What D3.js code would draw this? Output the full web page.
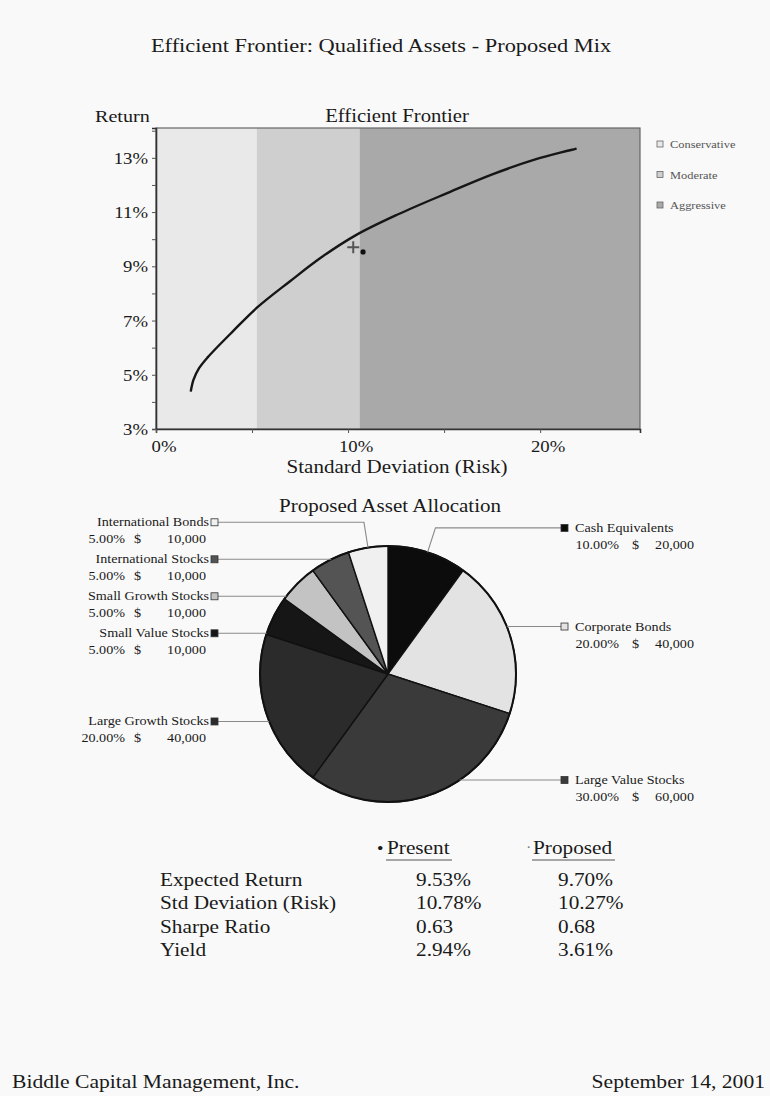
<!DOCTYPE html>
<html>
<head>
<meta charset="utf-8">
<script src="https://cdn.jsdelivr.net/npm/d3@7"></script>
<style>
  body { margin: 0; background: #f9f9f9; }
  svg { display: block; font-family: "Liberation Serif", "DejaVu Serif", serif; }
</style>
</head>
<body>
<div id="wrapper"></div>
<script>
// efficient frontier curve (risk %, return %)
const frontierRisk = [1.81, 1.95, 2.25, 2.70, 4.00, 5.30, 6.98, 8.65, 10.41, 12.55, 15.16, 17.51, 19.75, 21.90];
const frontierReturn = [4.38, 4.81, 5.25, 5.65, 6.60, 7.50, 8.45, 9.35, 10.15, 10.90, 11.70, 12.39, 12.94, 13.34];

const bandNames = ['Conservative', 'Moderate', 'Aggressive'];
const bandEdges = [0, 5.25, 10.6, 25.2];

const portfolioNames = ['Present', 'Proposed'];
const portfolioRisk = [10.78, 10.27];
const portfolioReturn = [9.53, 9.70];

const xTickValues = [0, 10, 20];
const yTickValues = [3, 5, 7, 9, 11, 13];

const assetNames = ['Cash Equivalents', 'Corporate Bonds', 'Large Value Stocks', 'Large Growth Stocks',
    'Small Value Stocks', 'Small Growth Stocks', 'International Stocks', 'International Bonds'];
const assetWeights = [10, 20, 30, 20, 5, 5, 5, 5];
const assetAmounts = [20000, 40000, 60000, 40000, 10000, 10000, 10000, 10000];

const statNames = ['Expected Return', 'Std Deviation (Risk)', 'Sharpe Ratio', 'Yield'];
const presentStats = ['9.53%', '10.78%', '0.63', '2.94%'];
const proposedStats = ['9.70%', '10.27%', '0.68', '3.61%'];

const width = 770, height = 1096;
const svg = d3.select('#wrapper').append('svg')
    .attr('width', width)
    .attr('height', height);

svg.append('rect').attr('width', width).attr('height', height).attr('fill', '#f9f9f9');

// the scan is wider than tall, so text gets a horizontal stretch
function label(parent, x, y, str, size, anchor) {
    return parent.append('text')
        .attr('transform', `translate(${x},${y}) scale(1.15,1)`)
        .attr('font-size', size)
        .attr('text-anchor', anchor || 'start')
        .attr('fill', '#1a1a1a')
        .text(str);
}

label(svg, 381, 52, 'Efficient Frontier: Qualified Assets - Proposed Mix', 19.5, 'middle');

// ---------- frontier chart ----------
const plot = { left: 156, right: 640, top: 128, bottom: 429 };

const xScale = d3.scaleLinear().domain([bandEdges[0], bandEdges[3]]).range([plot.left, plot.right]);
const yScale = d3.scaleLinear().domain([3, 14.1]).range([plot.bottom, plot.top]);

const bandFill = ['#e9e9e9', '#cfcfcf', '#a9a9a9'];
const chart = svg.append('g');

chart.selectAll('rect.band')
    .data(bandNames)
    .join('rect')
    .attr('class', 'band')
    .attr('x', (d, i) => xScale(bandEdges[i]))
    .attr('width', (d, i) => xScale(bandEdges[i + 1]) - xScale(bandEdges[i]))
    .attr('y', plot.top)
    .attr('height', plot.bottom - plot.top)
    .attr('fill', (d, i) => bandFill[i]);

chart.append('rect')
    .attr('x', plot.left).attr('y', plot.top)
    .attr('width', plot.right - plot.left).attr('height', plot.bottom - plot.top)
    .attr('fill', 'none').attr('stroke', '#666').attr('stroke-width', 1.2);

const frontier = frontierRisk.map((r, i) => [r, frontierReturn[i]]);
const line = d3.line()
    .x(d => xScale(d[0]))
    .y(d => yScale(d[1]))
    .curve(d3.curveCatmullRom.alpha(0.5));

chart.append('path')
    .attr('d', line(frontier))
    .attr('fill', 'none')
    .attr('stroke', '#161616')
    .attr('stroke-width', 2.4);

// proposed (+) and present (dot) markers
const px = xScale(portfolioRisk[1]), py = yScale(portfolioReturn[1]);
chart.append('path')
    .attr('d', `M${px - 6},${py}H${px + 6}M${px},${py - 6}V${py + 6}`)
    .attr('stroke', '#555').attr('stroke-width', 2);
chart.append('circle')
    .attr('cx', xScale(portfolioRisk[0])).attr('cy', yScale(portfolioReturn[0]))
    .attr('r', 2.6).attr('fill', '#111');

// axes
const yAxis = chart.append('g')
    .attr('transform', `translate(${plot.left},0)`)
    .call(d3.axisLeft(yScale).tickValues(d3.range(3, 15)).tickSize(4).tickFormat(''));
const xAxis = chart.append('g')
    .attr('transform', `translate(0,${plot.bottom})`)
    .call(d3.axisBottom(xScale).tickValues([0, 5, 10, 15, 20]).tickSize(4).tickFormat(''));
[xAxis, yAxis].forEach(a => {
    a.select('.domain').attr('stroke', '#333').attr('stroke-width', 1.6);
    a.selectAll('.tick line').attr('stroke', '#555');
});

yTickValues.forEach(v => label(chart, 148, yScale(v) + 6, v + '%', 16.3, 'end'));
xTickValues.forEach(v => label(chart, xScale(v) + 8, 452, v + '%', 16.3, 'middle'));

label(chart, 95, 122, 'Return', 17.5);
label(chart, 397, 122, 'Efficient Frontier', 18, 'middle');
label(chart, 397, 473, 'Standard Deviation (Risk)', 18.3, 'middle');

// legend
const legend = chart.append('g');
bandNames.forEach((name, i) => {
    const ly = 145 + i * 30.5;
    legend.append('rect')
        .attr('x', 657).attr('y', ly - 4).attr('width', 6).attr('height', 6)
        .attr('fill', bandFill[i]).attr('stroke', '#666').attr('stroke-width', 0.8);
    label(legend, 670, ly + 3, name, 10.8).attr('fill', '#555');
});

// ---------- pie ----------
const cx = 388, cy = 674, R = 128;
const pieFill = ['#0c0c0c', '#e3e3e3', '#3a3a3a', '#2b2b2b', '#161616', '#c3c3c3', '#545454', '#f0f0f0'];

label(svg, 390, 512, 'Proposed Asset Allocation', 18.3, 'middle');

const pie = d3.pie().sort(null).value(d => d);
const arcs = pie(assetWeights);
const arc = d3.arc().innerRadius(0).outerRadius(R);

const pieG = svg.append('g').attr('transform', `translate(${cx},${cy})`);
pieG.selectAll('path')
    .data(arcs)
    .join('path')
    .attr('d', arc)
    .attr('fill', (d, i) => pieFill[i])
    .attr('stroke', '#111')
    .attr('stroke-width', 1.4);
pieG.append('circle').attr('r', R).attr('fill', 'none').attr('stroke', '#111').attr('stroke-width', 2);

// label layout: natural position, clamped to pie height, then pushed apart
const labelR = R * 1.2;
arcs.forEach((a, i) => {
    a.index = i;
    a.mid = (a.startAngle + a.endAngle) / 2;
    a.side = Math.sin(a.mid) >= 0 ? 1 : -1;
    a.ly = Math.max(cy - R - 24, Math.min(cy + R - 22, cy - labelR * Math.cos(a.mid)));
});
[1, -1].forEach(s => {
    const list = arcs.filter(a => a.side === s).sort((a, b) => a.ly - b.ly);
    for (let i = 1; i < list.length; i++) {
        if (list[i].ly < list[i - 1].ly + 37) list[i].ly = list[i - 1].ly + 37;
    }
});

const fmtAmt = d3.format(',');
const labels = svg.append('g');
arcs.forEach(a => {
    const i = a.index;
    const anchorX = a.side > 0 ? cx + 173 : cx - 170;
    const dy = a.ly - cy;
    let pts;
    if (Math.abs(dy) < R) {
        pts = [[anchorX, a.ly], [cx + a.side * Math.sqrt(R * R - dy * dy), a.ly]];
    } else {
        pts = [[anchorX, a.ly], [cx + labelR * Math.sin(a.mid), a.ly],
               [cx + R * Math.sin(a.mid), cy - R * Math.cos(a.mid)]];
    }
    labels.append('path')
        .attr('d', d3.line()(pts))
        .attr('fill', 'none').attr('stroke', '#8a8a8a').attr('stroke-width', 1.1);

    const sqX = a.side > 0 ? anchorX : anchorX - 7;
    labels.append('rect')
        .attr('x', sqX).attr('y', a.ly - 3.5).attr('width', 7).attr('height', 7)
        .attr('fill', pieFill[i]).attr('stroke', '#333').attr('stroke-width', 0.8);

    const pct = assetWeights[i].toFixed(2) + '%';
    const amt = fmtAmt(assetAmounts[i]);
    const fs = 12.3;
    if (a.side > 0) {
        const tx = anchorX + 14;
        label(labels, tx, a.ly + 4, assetNames[i], fs);
        label(labels, tx + 44, a.ly + 21, pct, fs, 'end');
        label(labels, tx + 57, a.ly + 21, '$', fs);
        label(labels, tx + 119, a.ly + 21, amt, fs, 'end');
    } else {
        const tx = anchorX - 9;
        label(labels, tx, a.ly + 4, assetNames[i], fs, 'end');
        label(labels, tx - 84, a.ly + 21, pct, fs, 'end');
        label(labels, tx - 75, a.ly + 21, '$', fs);
        label(labels, tx - 3, a.ly + 21, amt, fs, 'end');
    }
});

// ---------- statistics table ----------
const table = svg.append('g');
const rowY = d3.scalePoint().domain(statNames).range([886, 956]);
const colX = [416, 558];

label(table, 377, 854, '•', 16);
label(table, 387, 854, portfolioNames[0], 18.5);
table.append('line').attr('x1', 386).attr('x2', 452).attr('y1', 860).attr('y2', 860)
    .attr('stroke', '#555').attr('stroke-width', 1.2);
label(table, 526, 852, '·', 14).attr('fill', '#777');
label(table, 533, 854, portfolioNames[1], 18.5);
table.append('line').attr('x1', 532).attr('x2', 615).attr('y1', 860).attr('y2', 860)
    .attr('stroke', '#555').attr('stroke-width', 1.2);

statNames.forEach((name, i) => {
    label(table, 160, rowY(name), name, 18.5);
    label(table, colX[0], rowY(name), presentStats[i], 18.5);
    label(table, colX[1], rowY(name), proposedStats[i], 18.5);
});

// ---------- footer ----------
label(svg, 12, 1088, 'Biddle Capital Management, Inc.', 18.8);
label(svg, 765, 1088, 'September 14, 2001', 18.8, 'end');
</script>
</body>
</html>
